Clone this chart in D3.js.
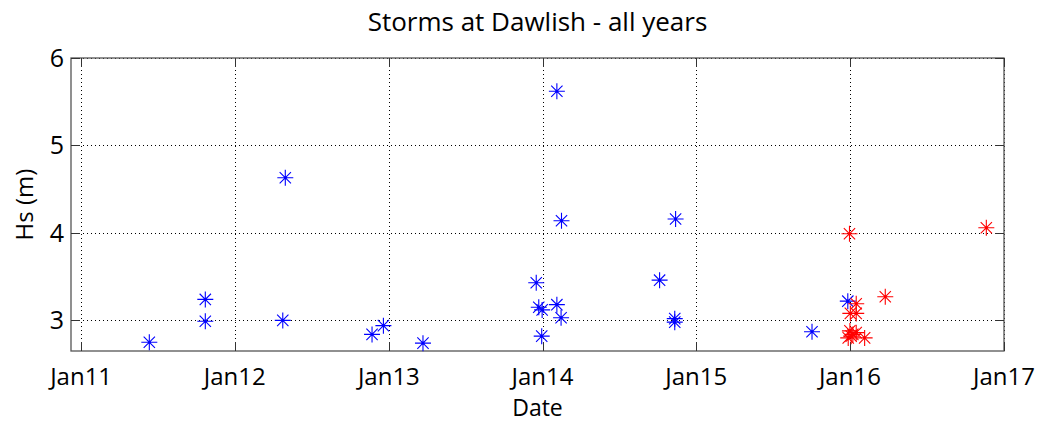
<!DOCTYPE html>
<html lang="en">
<head>
  <meta charset="UTF-8">
  <title>Storms at Dawlish</title>
  <script src="https://d3js.org/d3.v7.min.js"></script>
  <style>
    body { margin: 0; background: #fff; }
    text { font-family: "Open Sans", sans-serif; fill: #000; }
    .grid line { stroke: #000; stroke-dasharray: 1,3; shape-rendering: crispEdges; }
    .grid path { display: none; }
  </style>
</head>
<body>
  <div id="app"></div>
  <script>
    // storm dates and significant wave heights (m)
    var blueDates = ["2011-06-12", "2011-10-23", "2011-10-23", "2012-04-24", "2012-04-30",
      "2012-11-22", "2012-12-19", "2013-03-23", "2013-12-17", "2013-12-23", "2013-12-31",
      "2013-12-30", "2014-02-04", "2014-02-04", "2014-02-15", "2014-02-14", "2014-10-06",
      "2014-11-13", "2014-11-11", "2014-11-11", "2015-10-03", "2015-12-27"];
    var blueHs = [2.75, 3.24, 2.99, 3.00, 4.63,
      2.84, 2.94, 2.74, 3.43, 3.15, 3.12,
      2.82, 5.62, 3.18, 4.14, 3.03, 3.46,
      4.16, 3.02, 2.98, 2.87, 3.22];
    var redDates = ["2015-12-31", "2016-11-20", "2016-03-25", "2016-01-16", "2016-01-02",
      "2016-01-16", "2016-01-01", "2016-01-16", "2016-01-04", "2016-02-05", "2015-12-28",
      "2016-01-08"];
    var redHs = [3.99, 4.06, 3.27, 3.19, 3.08,
      3.08, 2.88, 2.86, 2.82, 2.80, 2.80,
      2.84];
    var xTicks = ["2011-01-01", "2012-01-01", "2013-01-01", "2014-01-01", "2015-01-01", "2016-01-01", "2017-01-01"];
    var yTicks = [3, 4, 5, 6];

    var width = 1045, height = 426;
    var margin = { left: 71, top: 58, right: 41, bottom: 75 };
    var x0 = margin.left, x1 = width - margin.right;
    var y0 = height - margin.bottom, y1 = margin.top;

    var parse = d3.timeParse("%Y-%m-%d");
    var fmt = d3.timeFormat("%b%y");

    var svg = d3.select("#app").append("svg")
      .attr("width", width)
      .attr("height", height);

    var xScale = d3.scaleTime()
      .domain([parse("2010-12-08"), parse("2017-01-01")])
      .range([x0, x1]);
    var yScale = d3.scaleLinear()
      .domain([2.65, 6])
      .range([y0, y1]);

    // grid
    svg.append("g").attr("class", "grid")
      .attr("transform", "translate(0," + y0 + ")")
      .call(d3.axisBottom(xScale).tickValues(xTicks.map(parse)).tickSize(-(y0 - y1)).tickFormat(""));
    svg.append("g").attr("class", "grid")
      .attr("transform", "translate(" + x0 + ",0)")
      .call(d3.axisLeft(yScale).tickValues(yTicks).tickSize(-(x1 - x0)).tickFormat(""));

    // box
    svg.append("rect")
      .attr("x", x0).attr("y", y1)
      .attr("width", x1 - x0).attr("height", y0 - y1)
      .attr("fill", "none").attr("stroke", "#555").attr("stroke-width", 1.3);

    // inward ticks on all four sides
    var tk = 9;
    var tg = svg.append("g").attr("stroke", "#333").attr("stroke-width", 1);
    xTicks.map(parse).forEach(function (d) {
      var xx = Math.round(xScale(d)) + 0.5;
      tg.append("line").attr("x1", xx).attr("x2", xx).attr("y1", y0).attr("y2", y0 - tk);
      tg.append("line").attr("x1", xx).attr("x2", xx).attr("y1", y1).attr("y2", y1 + tk);
    });
    yTicks.forEach(function (v) {
      var yy = Math.round(yScale(v)) + 0.5;
      tg.append("line").attr("x1", x0).attr("x2", x0 + tk).attr("y1", yy).attr("y2", yy);
      tg.append("line").attr("x1", x1).attr("x2", x1 - tk).attr("y1", yy).attr("y2", yy);
    });

    // tick labels
    svg.append("g").selectAll("text")
      .data(xTicks.map(parse))
      .enter().append("text")
      .attr("x", function (d) { return xScale(d); })
      .attr("y", 385)
      .attr("text-anchor", "middle")
      .style("font-size", "24px")
      .text(function (d) { return fmt(d); });
    svg.append("g").selectAll("text")
      .data(yTicks)
      .enter().append("text")
      .attr("x", 64)
      .attr("y", function (d) { return yScale(d) + 9; })
      .attr("text-anchor", "end")
      .style("font-size", "25px")
      .text(function (d) { return d; });

    // labels
    svg.append("text")
      .attr("x", (x0 + x1) / 2).attr("y", 31)
      .attr("text-anchor", "middle")
      .style("font-size", "26px")
      .text("Storms at Dawlish - all years");
    svg.append("text")
      .attr("x", (x0 + x1) / 2).attr("y", 416)
      .attr("text-anchor", "middle")
      .style("font-size", "23px")
      .text("Date");
    svg.append("text")
      .attr("transform", "translate(33," + ((y0 + y1) / 2) + ") rotate(-90)")
      .attr("text-anchor", "middle")
      .style("font-size", "24px")
      .text("Hs (m)");

    // asterisk markers
    var r = 8, rd = r * Math.SQRT1_2;
    function star(px, py) {
      return "M" + (px - r) + "," + py + "H" + (px + r) +
        "M" + px + "," + (py - r) + "V" + (py + r) +
        "M" + (px - rd) + "," + (py - rd) + "L" + (px + rd) + "," + (py + rd) +
        "M" + (px - rd) + "," + (py + rd) + "L" + (px + rd) + "," + (py - rd);
    }
    function drawSeries(dates, hs, color) {
      var pts = dates.map(function (d, i) { return { x: xScale(parse(d)), y: yScale(hs[i]) }; });
      var g = svg.append("g");
      g.selectAll("path").data(pts).enter().append("path")
        .attr("d", function (p) { return star(p.x, p.y); })
        .attr("fill", "none")
        .attr("stroke", color)
        .attr("stroke-width", 1.1);
      g.selectAll("circle").data(pts).enter().append("circle")
        .attr("cx", function (p) { return p.x; })
        .attr("cy", function (p) { return p.y; })
        .attr("r", 1.3)
        .attr("fill", color);
    }
    drawSeries(blueDates, blueHs, "#0000ff");
    drawSeries(redDates, redHs, "#ff0000");
  </script>
</body>
</html>
